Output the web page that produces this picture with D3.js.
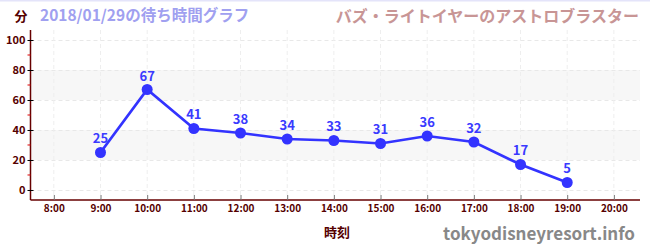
<!DOCTYPE html>
<html>
<head>
<meta charset="utf-8">
<script src="https://cdn.jsdelivr.net/npm/d3@7"></script>
<style>
  body { margin: 0; background: #fff; }
  text { font-family: "Noto Sans CJK JP", "Noto Sans", sans-serif; }
</style>
</head>
<body>
<div id="chart"></div>
<script>
// wait times (minutes) per hour
var hours = [9, 10, 11, 12, 13, 14, 15, 16, 17, 18, 19];
var waits = [25, 67, 41, 38, 34, 33, 31, 36, 32, 17, 5];
var xTicks = [8, 9, 10, 11, 12, 13, 14, 15, 16, 17, 18, 19, 20];
var yTicks = [0, 20, 40, 60, 80, 100];
var yMinor = [10, 30, 50, 70, 90];
var bands = [[20, 40], [60, 80]];

var width = 650, height = 250;
var plot = {left: 30.5, right: 640, top: 30, bottom: 200};

var svg = d3.select("#chart").append("svg")
    .attr("width", width)
    .attr("height", height)

// thin top border
svg.append("rect")
    .attr("x", 0).attr("y", 0).attr("width", width).attr("height", 1.5)
    .attr("fill", "#e4e4fa")

var x = d3.scaleLinear().domain([7.5, 20.56]).range([plot.left, plot.right]);
var y = d3.scaleLinear().domain([-6.67, 106.67]).range([plot.bottom, plot.top]);

// shaded bands
svg.append("g").selectAll("rect")
    .data(bands)
    .enter()
    .append("rect")
    .attr("x", plot.left)
    .attr("width", plot.right - plot.left)
    .attr("y", function(d){ return y(d[1]) })
    .attr("height", function(d){ return y(d[0]) - y(d[1]) })
    .attr("fill", "#f7f7f7")

// grid
svg.append("g").selectAll("line")
    .data(yTicks)
    .enter()
    .append("line")
    .attr("x1", plot.left).attr("x2", plot.right)
    .attr("y1", function(d){ return y(d) + 0.5 })
    .attr("y2", function(d){ return y(d) + 0.5 })
    .attr("stroke", "#e8e8e8")
    .attr("stroke-dasharray", "4,3")

svg.append("g").selectAll("line")
    .data(xTicks)
    .enter()
    .append("line")
    .attr("y1", plot.top).attr("y2", plot.bottom)
    .attr("x1", function(d){ return x(d) })
    .attr("x2", function(d){ return x(d) })
    .attr("stroke", "#eeeeee")
    .attr("stroke-dasharray", "4,3")

// y axis
var yAxis = svg.append("g")
    .attr("transform", "translate(" + plot.left + ",0)")
    .call(d3.axisLeft(y).tickValues(yTicks).tickSize(3).tickSizeOuter(0))
yAxis.select(".domain").attr("stroke", "#660000").attr("stroke-width", 1.5)
    .attr("d", "M0," + plot.top + "V" + plot.bottom)
yAxis.selectAll(".tick line").attr("stroke", "#000").attr("x2", -3).attr("x1", 3)
yAxis.selectAll(".tick text")
    .attr("fill", "#550000")
    .attr("font-size", 11)
    .attr("font-weight", "bold")
    .attr("x", -5)

svg.append("g").selectAll("line")
    .data(yMinor)
    .enter()
    .append("line")
    .attr("x1", plot.left - 3).attr("x2", plot.left)
    .attr("y1", function(d){ return y(d) })
    .attr("y2", function(d){ return y(d) })
    .attr("stroke", "#dd0000")

// x axis
var xAxis = svg.append("g")
    .attr("transform", "translate(0," + plot.bottom + ")")
    .call(d3.axisBottom(x).tickValues(xTicks).tickSizeOuter(0)
        .tickFormat(function(d){ return d + ":00" }))
xAxis.select(".domain").attr("stroke", "#660000").attr("stroke-width", 1.5)
    .attr("d", "M" + plot.left + ",0H" + plot.right)
xAxis.selectAll(".tick line").attr("stroke", "#777").attr("y1", 0).attr("y2", -5)
xAxis.selectAll(".tick text")
    .attr("fill", "#550000")
    .attr("font-size", 10)
    .attr("font-weight", "bold")
    .attr("y", 5)

// line + points
var pts = hours.map(function(h, i){ return [h, waits[i]] });

svg.append("path")
    .datum(pts)
    .attr("fill", "none")
    .attr("stroke", "#3333ff")
    .attr("stroke-width", 2.7)
    .attr("d", d3.line().x(function(d){ return x(d[0]) }).y(function(d){ return y(d[1]) }))

svg.append("g").selectAll("circle")
    .data(pts)
    .enter()
    .append("circle")
    .attr("cx", function(d){ return x(d[0]) })
    .attr("cy", function(d){ return y(d[1]) })
    .attr("r", 5.5)
    .attr("fill", "#3333ff")

svg.append("g").selectAll("text")
    .data(pts)
    .enter()
    .append("text")
    .attr("x", function(d){ return x(d[0]) })
    .attr("y", function(d){ return y(d[1]) - 9 })
    .attr("text-anchor", "middle")
    .attr("font-size", 13)
    .attr("font-weight", "bold")
    .attr("fill", "#3a3aff")
    .text(function(d){ return d[1] })

// titles
svg.append("text")
    .attr("x", 21).attr("y", 21)
    .attr("text-anchor", "middle")
    .attr("font-size", 13).attr("font-weight", "bold")
    .attr("fill", "#550000")
    .text("分")

svg.append("text")
    .attr("x", 40).attr("y", 21)
    .attr("font-size", 15.5).attr("font-weight", "bold")
    .attr("fill", "#a0a0f0")
    .text("2018/01/29の待ち時間グラフ")

svg.append("text")
    .attr("x", 639).attr("y", 22)
    .attr("text-anchor", "end")
    .attr("font-size", 16).attr("font-weight", "bold")
    .attr("fill", "#c89595")
    .text("バズ・ライトイヤーのアストロブラスター")

svg.append("text")
    .attr("x", 337).attr("y", 237)
    .attr("text-anchor", "middle")
    .attr("font-size", 13).attr("font-weight", "bold")
    .attr("fill", "#550000")
    .text("時刻")

svg.append("text")
    .attr("x", 635).attr("y", 240)
    .attr("text-anchor", "end")
    .attr("font-size", 17).attr("font-weight", "bold")
    .attr("fill", "#888888")
    .text("tokyodisneyresort.info")
</script>
</body>
</html>
